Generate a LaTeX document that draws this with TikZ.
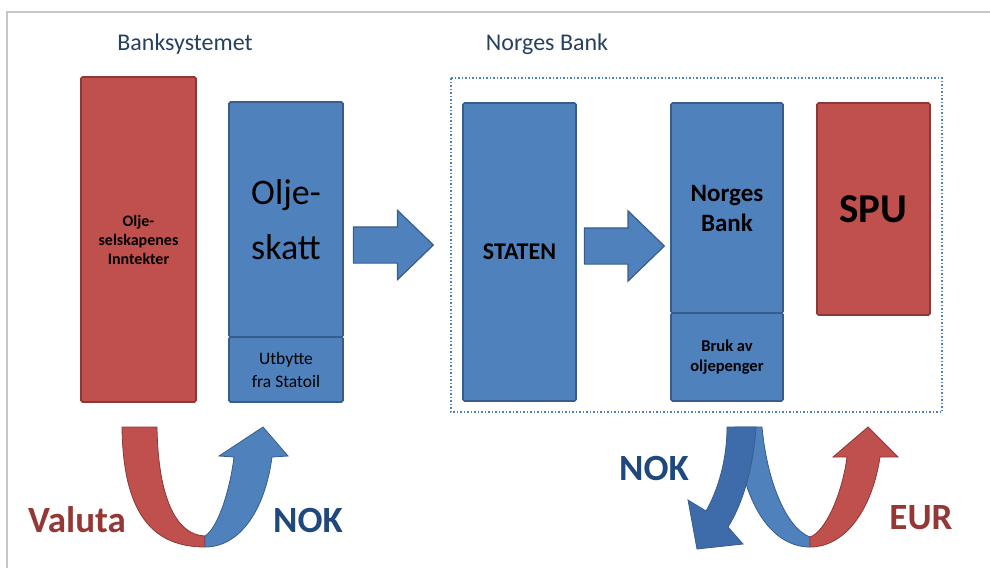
\documentclass[tikz,border=0pt]{standalone}
\usepackage{fontspec}
\setmainfont{Carlito}
\usetikzlibrary{positioning,shapes.arrows,calc}
\definecolor{boxred}{RGB}{192,80,77}
\definecolor{boxredD}{RGB}{140,56,54}
\definecolor{boxblue}{RGB}{79,129,189}
\definecolor{boxblueD}{RGB}{56,93,138}
\definecolor{flowblue}{RGB}{62,108,170}
\definecolor{headtxt}{RGB}{38,64,97}
\definecolor{noktxt}{RGB}{31,73,125}
\definecolor{valtxt}{RGB}{149,55,53}
\tikzset{
  redbox/.style={draw=boxredD, fill=boxred, line width=1.6pt, rounded corners=1.5pt, inner sep=0pt, outer sep=0pt, align=center},
  bluebox/.style={draw=boxblueD, fill=boxblue, line width=1.6pt, rounded corners=1.5pt, inner sep=0pt, outer sep=0pt, align=center},
  bigarr/.style={single arrow, draw=boxblueD, fill=boxblue, line width=1.2pt, minimum height=80pt, text height=17.5pt, text depth=17.5pt, single arrow head extend=16.5pt, single arrow tip angle=88, inner sep=0pt},
  curr/.style={font=\bfseries\fontsize{37}{40}\selectfont},
  hdr/.style={text=headtxt, font=\fontsize{24}{28}\selectfont},
}
\begin{document}
\begin{tikzpicture}[x=1pt, y=-1pt]
\useasboundingbox (0,0) rectangle (990,568);
\draw[gray!45, line width=2pt] (990,12) -- (7,12) -- (7,568);
% headings
\node[hdr] (hbank) at (185,44) {Banksystemet};
\node[hdr] (hnb) at (547,44) {Norges Bank};
% banksystemet
\node[redbox, minimum width=115pt, minimum height=325pt, font=\bfseries\fontsize{16}{19}\selectfont] (inntekt) at (138.5,239.5) {Olje-\\selskapenes\\Inntekter};
\node[bluebox, minimum width=114pt, minimum height=235pt, font=\fontsize{36}{55}\selectfont] (skatt) at (286,219.5) {Olje-\\skatt};
\node[bluebox, minimum width=114pt, minimum height=65pt, below=0pt of skatt, font=\fontsize{17.5}{23}\selectfont] (utbytte) {Utbytte\\fra Statoil};
% norges bank
\node[bluebox, minimum width=113pt, minimum height=298pt, font=\bfseries\fontsize{24}{28}\selectfont] (staten) at (519.5,252) {STATEN};
\node[bluebox, minimum width=112pt, minimum height=210pt, font=\bfseries\fontsize{25}{30}\selectfont] (nbtop) at (727,208) {Norges\\Bank};
\node[bluebox, minimum width=112pt, minimum height=88pt, below=0pt of nbtop, font=\bfseries\fontsize{16.5}{20}\selectfont] (nbbot) {Bruk av\\oljepenger};
\node[redbox, minimum width=113pt, minimum height=212pt, font=\bfseries\fontsize{41}{45}\selectfont] (spu) at (873.5,209) {SPU};
\draw[boxblue, line width=2pt, dash pattern=on 1.5pt off 2pt] ($(staten.north west)+(-12,-25)$) rectangle ($(nbbot.south -| spu.east)+(12,11)$);
% block arrows
\node[bigarr] (a1) at (384,245) {};
\node[bigarr, single arrow head extend=17pt] (a2) at (615,246) {};
% valuta -> NOK
\coordinate (ul) at (205,547);
\coordinate (ur) at (810,547);
\filldraw[fill=boxred, draw=boxredD, line width=0.8pt] (122,427) .. controls (123,510) and (150,547) .. (ul) -- (205,536) .. controls (175,535) and (158,495) .. (157,427) -- cycle;
\filldraw[fill=boxblue, draw=boxblueD, line width=0.8pt] (205,536) .. controls (218,528) and (230,490) .. (234,457) -- (219,456) -- (263,427) -- (288,456) -- (272,457) .. controls (265,510) and (240,547) .. (ul) -- cycle;
% NOK -> EUR
\filldraw[fill=boxblue, draw=boxblueD, line width=0.8pt] (735,427) .. controls (742,505) and (772,547) .. (ur) -- (810,537) .. controls (790,530) and (768,490) .. (762,427) -- cycle;
\filldraw[fill=flowblue, draw=boxblueD, line width=0.8pt] (756,427) .. controls (753,470) and (742,505) .. (728,527) -- (743,544) -- (697,549) -- (688,500) -- (706,511) .. controls (718,490) and (727,460) .. (727,427) -- cycle;
\filldraw[fill=boxred, draw=boxredD, line width=0.8pt] (ur) .. controls (845,547) and (872,510) .. (880,457) -- (898,457) -- (868,427) -- (833,457) -- (847,457) .. controls (842,495) and (825,532) .. (810,537) -- cycle;
% currency labels
\node[curr, text=valtxt] (valuta) at (77,520) {Valuta};
\node[curr, text=noktxt] (nok1) at (308,520) {NOK};
\node[curr, text=noktxt] (nok2) at (654,468) {NOK};
\node[curr, text=valtxt] (eur) at (921,518) {EUR};
\end{tikzpicture}
\end{document}
